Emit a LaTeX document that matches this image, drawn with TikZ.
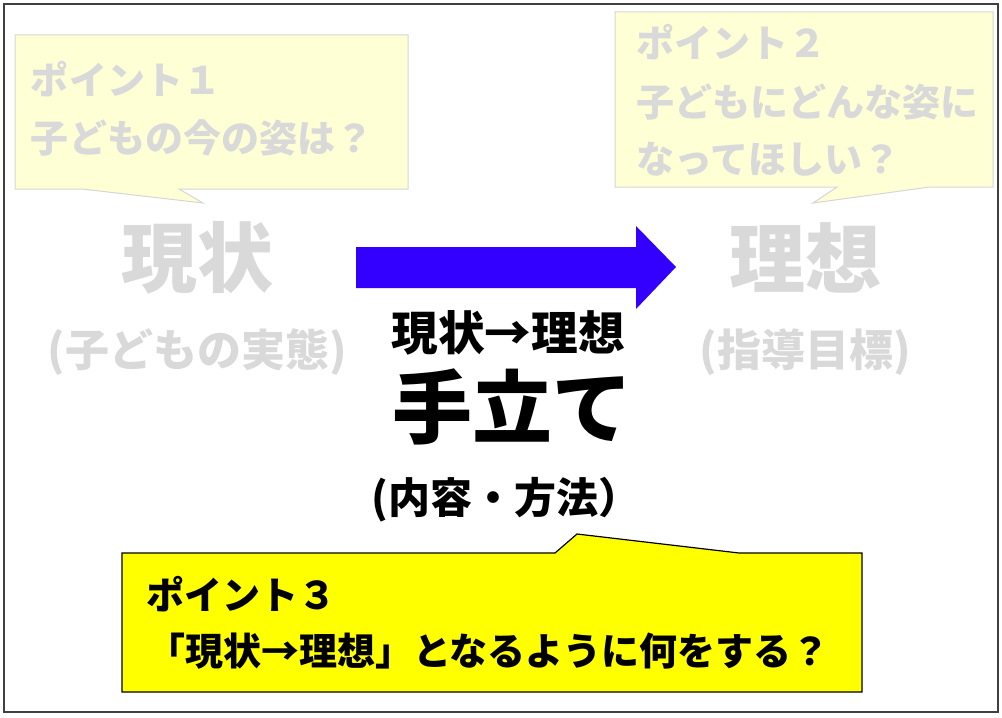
\documentclass[tikz,border=0pt]{standalone}
\usepackage{fontspec}
\setmainfont{Noto Sans CJK JP}
\begin{document}
\begin{tikzpicture}[x=0.75pt,y=-0.75pt,
  every node/.style={inner sep=0pt,outer sep=0pt},
  fsz/.style={font=\bfseries\fontsize{#1}{#1}\selectfont},
  ghost/.style={text=txtgray},
  pale/.style={fill=paleyellow,draw=bordergray,line width=0.75pt},
  hot/.style={fill=pureyellow,draw=black,line width=0.9pt},
]
\definecolor{txtgray}{HTML}{D9D9D9}
\definecolor{bordergray}{HTML}{D6D6D6}
\definecolor{paleyellow}{HTML}{FFFFD5}
\definecolor{pureyellow}{HTML}{FFFF00}
\definecolor{arrowblue}{HTML}{3300FF}
\definecolor{framegray}{HTML}{404040}
\useasboundingbox (0,0) rectangle (1002,717);
\draw[draw=framegray,line width=1.1pt] (4,4) rectangle (998,712);

% callout 1
\draw[pale] (15,35) -- (408,35) -- (408,189) -- (179,189) -- (203,203) -- (82,189) -- (15,189) -- cycle;
\node[fsz=28.5pt,ghost,anchor=base west] (p1a) at (31,94) {ポイント１};
\node[fsz=28.5pt,ghost,anchor=base west] (p1b) at (31,152) {子どもの今の姿は？};

% callout 2
\draw[pale] (615,12) -- (993,12) -- (993,187) -- (930,187) -- (813,203) -- (837,187) -- (615,187) -- cycle;
\node[fsz=28.5pt,ghost,anchor=base west] (p2a) at (636,58) {ポイント２};
\node[fsz=28.5pt,ghost,anchor=base west] (p2b) at (636,116) {子どもにどんな姿に};
\node[fsz=28.5pt,ghost,anchor=base west] (p2c) at (636,173) {なってほしい？};

% left / right labels
\node[fsz=57pt,ghost] (now) at (197,258) {現状};
\node[fsz=33pt,ghost] (nowsub) at (197,352) {(子どもの実態)};
\node[fsz=57pt,ghost] (ideal) at (805,258) {理想};
\node[fsz=33pt,ghost] (idealsub) at (805,352) {(指導目標)};

% blue arrow
\fill[arrowblue] (356,247) -- (636,247) -- (636,226) -- (676,267) -- (636,309) -- (636,288) -- (356,288) -- cycle;

% center texts
\node[fsz=35pt] (flow) at (508,333) {現状→理想};
\node[fsz=60pt] (means) at (512,407) {手立て};
\node[fsz=31.5pt] (content) at (506,500) {(内容・方法）};

% callout 3
\draw[hot] (122,553) -- (555,553) -- (577,534) -- (739,553) -- (862,553) -- (862,692) -- (122,692) -- cycle;
\node[fsz=28.5pt,anchor=base west] (p3a) at (146,609) {ポイント３};
\node[fsz=28.5pt,anchor=base west] (p3b) at (147,665) {「現状→理想」となるように何をする？};
\end{tikzpicture}
\end{document}
